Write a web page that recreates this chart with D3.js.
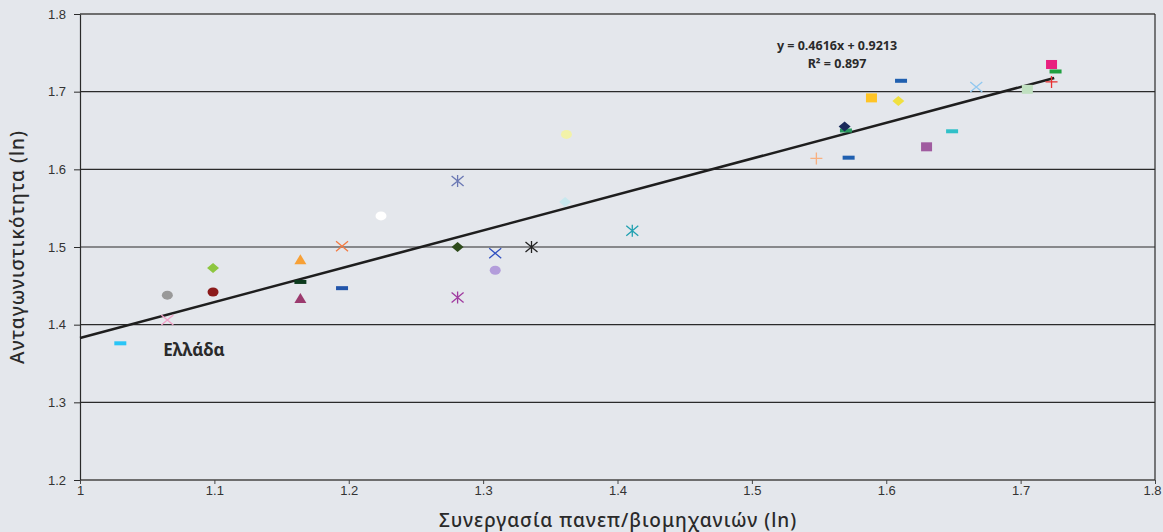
<!DOCTYPE html>
<html>
<head>
<meta charset="utf-8">
<script src="https://cdn.jsdelivr.net/npm/d3@7"></script>
<style>
	body { margin: 0; background: #e4e7ec; }
	svg { display: block; font-family: "Noto Sans", "DejaVu Sans", sans-serif; }
</style>
</head>
<body>
<svg width="1163" height="532"></svg>
<script>
// collaboration university/industry (ln)
var xValues = [1.030, 1.065, 1.065, 1.099, 1.099, 1.164, 1.164, 1.164, 1.195, 1.195,
	1.224, 1.281, 1.281, 1.281, 1.309, 1.309, 1.336, 1.361, 1.362, 1.411,
	1.548, 1.572, 1.570, 1.569, 1.589, 1.611, 1.609, 1.630, 1.649, 1.667,
	1.705, 1.723, 1.726, 1.723];
// competitiveness (ln)
var yValues = [1.376, 1.406, 1.438, 1.473, 1.442, 1.483, 1.455, 1.433, 1.447, 1.501,
	1.540, 1.585, 1.500, 1.435, 1.492, 1.470, 1.500, 1.558, 1.645, 1.521,
	1.614, 1.615, 1.650, 1.655, 1.692, 1.714, 1.688, 1.629, 1.649, 1.706,
	1.703, 1.735, 1.726, 1.7125];
var markerShapes = ['dash', 'x', 'circle', 'diamond', 'circle', 'triangle', 'dash', 'triangle', 'dash', 'x',
	'circle', 'star', 'diamond', 'star', 'x', 'circle', 'star', 'diamond', 'circle', 'star',
	'plus', 'dash', 'dash', 'diamond', 'square', 'dash', 'diamond', 'square', 'dash', 'x',
	'square', 'square', 'dash', 'plus'];
var markerColors = ['#29c5f6', '#f2a0c8', '#999999', '#8dc63f', '#8b1a1a', '#f7a035', '#0d3b1e', '#9b3a6e', '#2255aa', '#f47a40',
	'#ffffff', '#6a78b4', '#2d4a1a', '#a03ca0', '#3050c0', '#b39ddb', '#222222', '#c8e8ee', '#f2f2a8', '#20a0b0',
	'#f8b080', '#2060b0', '#2a9a60', '#1a2a5a', '#ffc425', '#2060b0', '#f0e040', '#a05ca0', '#30c0c8', '#90c8f0',
	'#c0e0c0', '#e8207f', '#20a040', '#e83030'];
var xTicks = [1, 1.1, 1.2, 1.3, 1.4, 1.5, 1.6, 1.7, 1.8];
var yTicks = [1.2, 1.3, 1.4, 1.5, 1.6, 1.7, 1.8];
var slope = 0.4616, intercept = 0.9213, r2 = 0.897;
var fitRange = [1, 1.725];
var greeceIndex = 0;

var svg = d3.select('svg'),
	margin = {top: 14, right: 7, bottom: 52, left: 80},
	width = 1163 - margin.left - margin.right,
	height = 532 - margin.top - margin.bottom,
	g = svg.append('g').attr('transform', 'translate(' + margin.left + ',' + margin.top + ')');

svg.insert('rect', ':first-child').attr('width', 1163).attr('height', 532).attr('fill', '#e4e7ec');

var x = d3.scaleLinear().domain([1, 1.8]).range([0, width - 1]);
var y = d3.scaleLinear().domain([1.2, 1.8]).range([height, 0]);

// gridlines
g.selectAll('.grid')
	.data(yTicks)
	.enter().append('line')
	.attr('x1', 0).attr('x2', x(1.8))
	.attr('y1', function(d) { return y(d); })
	.attr('y2', function(d) { return y(d); })
	.attr('stroke', function(d) { return (d === 1.8 || d === 1.2) ? '#6e6e6e' : '#2a2a2a'; })
	.attr('stroke-width', function(d) { return (d === 1.8 || d === 1.2) ? 2 : 1.2; });

// right border
g.append('line')
	.attr('x1', x(1.8)).attr('x2', x(1.8))
	.attr('y1', 0).attr('y2', height)
	.attr('stroke', '#2a2a2a').attr('stroke-width', 1.2);

var yAxis = g.append('g')
	.call(d3.axisLeft(y).tickValues(yTicks).tickFormat(d3.format('.1f')).tickSize(6).tickSizeOuter(0));
yAxis.select('.domain').attr('stroke', '#2a2a2a').attr('stroke-width', 1.2);
yAxis.selectAll('.tick line').attr('stroke', '#2a2a2a');
yAxis.selectAll('text').attr('font-size', 13).attr('fill', '#333').attr('x', -14);

var xAxis = g.append('g')
	.attr('transform', 'translate(0,' + height + ')')
	.call(d3.axisBottom(x).tickValues(xTicks).tickFormat(function(d) { return d === 1 ? '1' : d3.format('.1f')(d); }).tickSize(4).tickSizeOuter(0));
xAxis.select('.domain').remove();
xAxis.selectAll('.tick line').attr('stroke', '#444');
xAxis.selectAll('text').attr('font-size', 13).attr('fill', '#333').attr('dy', '0.6em')
	.attr('dx', function(d) { return d === 1.8 ? -3 : 0; });

// trend line
g.append('line')
	.attr('x1', x(fitRange[0])).attr('y1', y(slope * fitRange[0] + intercept))
	.attr('x2', x(fitRange[1])).attr('y2', y(slope * fitRange[1] + intercept))
	.attr('stroke', '#1e1e1e').attr('stroke-width', 2.6);

// markers
var points = xValues.map(function(v, i) {
	return {x: v, y: yValues[i], shape: markerShapes[i], color: markerColors[i]};
});
var marks = g.selectAll('.pt')
	.data(points)
	.enter().append('g')
	.attr('transform', function(d) { return 'translate(' + x(d.x) + ',' + y(d.y) + ')'; });

marks.each(function(d) {
	var m = d3.select(this);
	if (d.shape === 'dash') {
		m.append('rect').attr('x', -6).attr('y', -2).attr('width', 12).attr('height', 4).attr('fill', d.color);
	} else if (d.shape === 'circle') {
		m.append('ellipse').attr('rx', 5.5).attr('ry', 4.5).attr('fill', d.color);
	} else if (d.shape === 'diamond') {
		m.append('path').attr('d', 'M0,-5L6,0L0,5L-6,0Z').attr('fill', d.color);
	} else if (d.shape === 'triangle') {
		m.append('path').attr('d', 'M0,-6L6,4L-6,4Z').attr('fill', d.color);
	} else if (d.shape === 'square') {
		m.append('rect').attr('x', -5.5).attr('y', -4.5).attr('width', 11).attr('height', 9).attr('fill', d.color);
	} else {
		var p = '';
		if (d.shape === 'x' || d.shape === 'star') p += 'M-6,-5L6,5M-6,5L6,-5';
		if (d.shape === 'star') p += 'M0,-6L0,6';
		if (d.shape === 'plus') p += 'M-6,0L6,0M0,-6L0,6';
		m.append('path').attr('d', p).attr('fill', 'none').attr('stroke', d.color).attr('stroke-width', 1.3);
	}
});

// Greece label
g.append('text')
	.attr('x', x(xValues[greeceIndex]) + 43)
	.attr('y', y(yValues[greeceIndex]) + 13)
	.attr('font-size', 17).attr('font-weight', 'bold').attr('fill', '#2a2a2a')
	.text('Ελλάδα');

// equation
var eq = g.append('text')
	.attr('x', 757).attr('y', 36)
	.attr('text-anchor', 'middle')
	.attr('font-size', 12.5).attr('font-weight', 'bold').attr('fill', '#2a2a2a');
eq.append('tspan').attr('x', 757).attr('dy', 0)
	.text('y = ' + slope + 'x + ' + intercept);
eq.append('tspan').attr('x', 757).attr('dy', 18)
	.text('R² = ' + r2);

// axis titles
svg.append('text')
	.attr('transform', 'translate(24,' + (margin.top + height / 2) + ') rotate(-90)')
	.attr('text-anchor', 'middle')
	.attr('font-size', 19).attr('font-weight', 500).attr('fill', '#2a2a2a').attr('letter-spacing', 1)
	.text('Ανταγωνιστικότητα (ln)');

svg.append('text')
	.attr('x', 618).attr('y', 527)
	.attr('text-anchor', 'middle')
	.attr('font-size', 19).attr('font-weight', 500).attr('fill', '#2a2a2a').attr('letter-spacing', 1)
	.text('Συνεργασία πανεπ/βιομηχανιών (ln)');
</script>
</body>
</html>
